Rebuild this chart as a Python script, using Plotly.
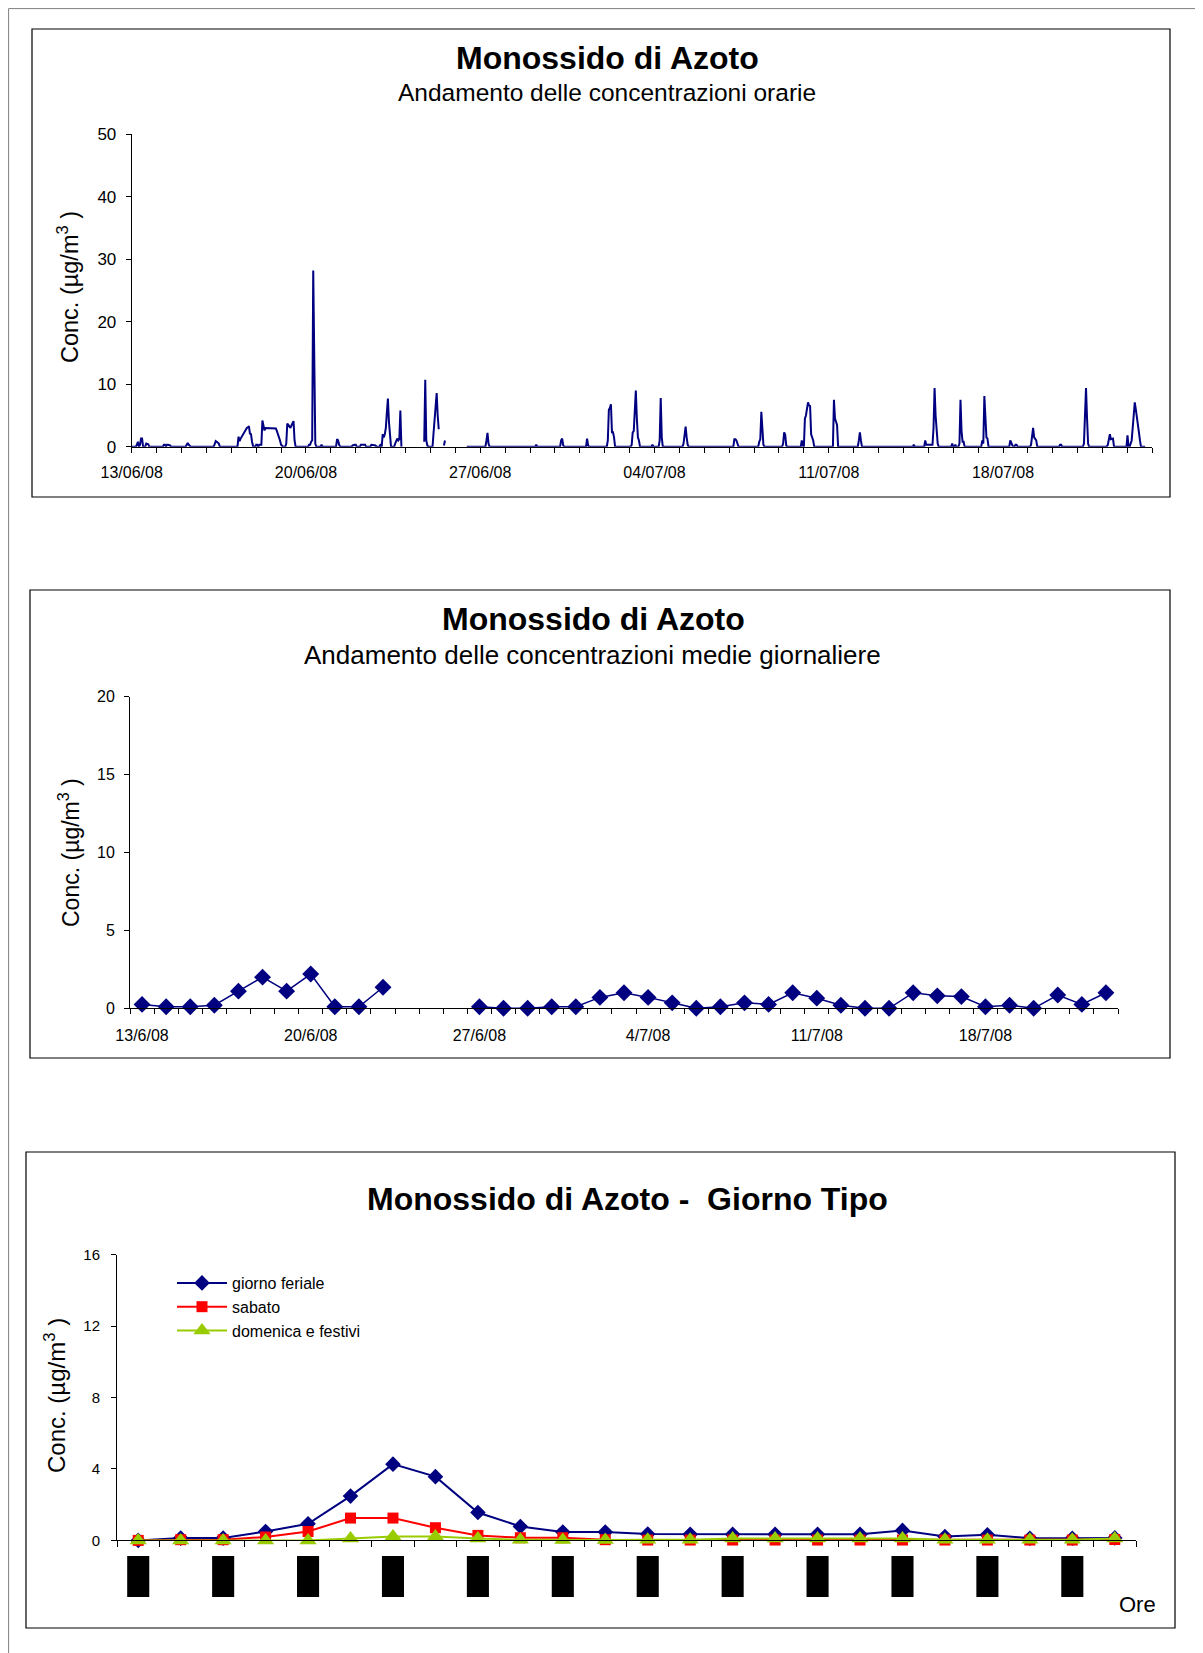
import pandas as pd
import plotly.graph_objects as go

N = None
W, H = 1203, 1653
OFF = 8  # the page body adds an 8px margin around the figure
FONT = "Liberation Sans, Arial, sans-serif"
NAVY = "#000080"
RED = "#FF0000"
GREEN = "#99CC00"

# ---------------- Chart 1: hourly concentrations (one row per day, hours 0..23) ----------------
hourly_start = "2008-06-13"
hourly_by_day = [
    [0, 0, 0, 0, 0, 0.3, 0.8, 0, 0.3, 1.3, 1.3, 0, 0, 0, 0.5, 0.5, 0.4, 0, 0, 0, 0, 0, 0, 0],          # 13/06
    [0, 0, 0, 0, 0, 0, 0, 0.3, 0.3, 0, 0.3, 0.3, 0.3, 0.2, 0, 0, 0, 0, 0, 0, 0, 0, 0, 0],              # 14/06
    [0, 0, 0, 0, 0, 0.3, 0.6, 0.3, 0.1, 0, 0, 0, 0, 0, 0, 0, 0, 0, 0, 0, 0, 0, 0, 0],                  # 15/06
    [0, 0, 0, 0, 0, 0, 0, 0, 0.4, 0.9, 0.8, 0.7, 0.5, 0, 0, 0, 0, 0, 0, 0, 0, 0, 0, 0],                # 16/06
    [0, 0, 0, 0, 0, 0, 0, 1.6, 0.9, 1.3, 1.6, 2.0, 2.3, 2.5, 2.8, 3.0, 3.1, 3.3, 2.1, 2.0, 0.8, 0.1, 0, 0],
    [0.3, 0.3, 0, 0.3, 0.3, 0.3, 4.2, 3.5, 2.6, 3.0, 3.0, 3.0, 3.0, 3.0, 3.0, 3.0, 3.0, 3.0, 3.0, 2.9, 2.5, 2.0, 1.8, 1.0],
    [0.3, 0.1, 0, 0, 0, 0.5, 3.7, 3.5, 3.3, 3.0, 3.4, 3.7, 4.1, 1.0, 0, 0, 0, 0, 0, 0, 0, 0, 0, 0],
    [0, 0, 0, 0.3, 0.3, 0.8, 1.0, 28.2, 9.5, 0.5, 0, 0, 0, 0, 0, 0.3, 0, 0, 0, 0, 0, 0, 0, 0],        # 20/06
    [0, 0, 0, 0, 0, 0, 1.2, 1.0, 0.3, 0, 0, 0, 0, 0, 0, 0, 0, 0, 0, 0, 0, 0.2, 0.3, 0.3],
    [0.3, 0, 0, 0, 0, 0.3, 0.3, 0.3, 0.3, 0.3, 0, 0, 0, 0, 0, 0.3, 0.3, 0.3, 0.3, 0.2, 0, 0, 0, 0],
    [0.4, 0, 2.0, 1.5, 2.0, 3.0, 5.5, 7.7, 4.0, 1.0, 0, 0, 0, 0, 0.5, 1.0, 1.3, 1.0, 1.2, 5.8, 0, N, N, N],
    [N, N, N, N, N, N, N, N, N, N, N, N, N, N, N, N, N, N, 0.8, 10.7, 1.0, 0.2, 0, 0],
    [0, 0, 0, 2.2, 4.5, 6.0, 8.6, 5.0, 2.8, N, N, N, N, 0.2, 1.0, N, N, N, N, N, N, N, N, N],
    [N, N, N, N, N, N, N, N, N, N, N, 0, 0, 0, 0, 0, 0, 0, 0, 0, 0, 0, 0, 0],
    [0, 0, 0, 0, 0, 0, 1.0, 2.2, 0.5, 0, 0, 0, 0, 0, 0, 0, 0, 0, 0, 0, 0, 0, 0, 0],                  # 27/06
    [0, 0, 0, 0, 0, 0, 0, 0, 0, 0, 0, 0, 0, 0, 0, 0, 0, 0, 0, 0, 0, 0, 0, 0],
    [0, 0, 0, 0, 0, 0, 0.3, 0, 0, 0, 0, 0, 0, 0, 0, 0, 0, 0, 0, 0, 0, 0, 0, 0],
    [0, 0, 0, 0, 0, 0, 1.0, 1.3, 0.2, 0, 0, 0, 0, 0, 0, 0, 0, 0, 0, 0, 0, 0, 0, 0],
    [0, 0, 0, 0, 0, 0, 0, 1.3, 0.2, 0, 0, 0, 0, 0, 0, 0, 0, 0, 0, 0, 0, 0, 0, 0],
    [0, 0, 0, 1.0, 5.9, 6.2, 6.8, 2.3, 2.3, 1.5, 0, 0, 0, 0, 0, 0, 0, 0, 0, 0, 0, 0, 0, 0],
    [0, 0, 0.3, 2.3, 2.5, 6.0, 9.0, 4.5, 1.5, 1.0, 0, 0, 0, 0, 0, 0, 0, 0, 0, 0, 0, 0, 0.3, 0],
    [0, 0, 0, 0, 0, 1.0, 7.8, 1.5, 0, 0, 0, 0, 0, 0, 0, 0, 0, 0, 0, 0, 0, 0, 0, 0],                  # 04/07
    [0, 0, 0, 0, 0.5, 1.5, 3.2, 1.5, 0.3, 0, 0, 0, 0, 0, 0, 0, 0, 0, 0, 0, 0, 0, 0, 0],
    [0, 0, 0, 0, 0, 0, 0, 0, 0, 0, 0, 0, 0, 0, 0, 0, 0, 0, 0, 0, 0, 0, 0, 0],
    [0, 0, 0, 0, 0, 1.2, 1.2, 1.0, 0.3, 0, 0, 0, 0, 0, 0, 0, 0, 0, 0, 0, 0, 0, 0, 0],
    [0, 0, 0, 0, 0, 0.8, 1.2, 5.6, 1.5, 0.3, 0, 0, 0, 0, 0, 0, 0, 0, 0, 0, 0, 0, 0, 0],
    [0, 0, 0, 0, 0.5, 2.3, 1.9, 0.2, 0, 0, 0, 0, 0, 0, 0, 0, 0, 0, 0, 0, 0, 0, 1.0, 0.2],
    [0, 4.5, 5.0, 6.0, 7.1, 6.6, 6.5, 2.0, 1.5, 1.0, 0, 0, 0, 0, 0, 0, 0, 0, 0, 0, 0, 0, 0, 0],
    [0, 0, 0, 0, 0, 7.5, 4.5, 4.0, 3.5, 0, 0, 0, 0, 0, 0, 0, 0, 0, 0, 0, 0, 0, 0, 0],                # 11/07
    [0, 0, 0, 0, 0, 1.0, 2.3, 1.0, 0, 0, 0, 0, 0, 0, 0, 0, 0, 0, 0, 0, 0, 0, 0, 0],
    [0, 0, 0, 0, 0, 0, 0, 0, 0, 0, 0, 0, 0, 0, 0, 0, 0, 0, 0, 0, 0, 0, 0, 0],
    [0, 0, 0, 0, 0, 0, 0, 0, 0, 0, 0.3, 0, 0, 0, 0, 0, 0, 0, 0, 0, 0, 1.0, 0.3, 0.3],
    [0.3, 0.3, 0.3, 0.2, 0.3, 3.0, 9.4, 5.0, 3.0, 0.5, 0, 0, 0, 0, 0, 0, 0, 0, 0, 0, 0, 0, 0, 0.5],
    [0, 0, 0.3, 0, 0, 0, 0.5, 7.5, 2.5, 0.8, 0.8, 0, 0, 0, 0, 0, 0, 0, 0, 0, 0, 0, 0, 0],
    [0, 0, 0, 0, 1.0, 0.5, 8.1, 3.0, 1.5, 1.3, 0, 0, 0, 0, 0, 0, 0, 0, 0, 0, 0, 0, 0, 0],
    [0, 0, 0, 0, 0, 0, 0, 1.0, 0.5, 0.2, 0, 0, 0.3, 0.3, 0, 0, 0, 0, 0, 0, 0, 0, 0, 0],              # 18/07
    [0, 0, 0, 0.3, 1.5, 3.0, 1.5, 1.2, 1.0, 0, 0, 0, 0, 0, 0, 0, 0, 0, 0, 0, 0, 0, 0, 0],
    [0, 0, 0, 0, 0, 0, 0, 0.3, 0.3, 0, 0, 0, 0, 0, 0, 0, 0, 0, 0, 0, 0, 0, 0, 0],
    [0, 0, 0, 0, 0, 0, 0.5, 5.0, 9.4, 4.5, 0.5, 0, 0, 0, 0, 0, 0, 0, 0, 0, 0, 0, 0, 0],
    [0, 0, 0, 0, 0, 0.3, 1.0, 2.0, 1.2, 1.2, 1.3, 0, 0, 0, 0, 0, 0, 0, 0, 0, 0, 0, 0, 0],
    [1.8, 0, 0, 0.5, 1.0, 3.0, 5.5, 7.1, 6.0, 5.0, 3.5, 2.3, 1.0, 0, 0, 0, 0, 0, N, N, N, N, N, N],   # 23/07
]
hourly_tick_dates = ["2008-06-13", "2008-06-20", "2008-06-27", "2008-07-04", "2008-07-11", "2008-07-18"]
hourly_tick_labels = ["13/06/08", "20/06/08", "27/06/08", "04/07/08", "11/07/08", "18/07/08"]

# ---------------- Chart 2: daily means ----------------
daily_dates = pd.date_range("2008-06-13", "2008-07-23", freq="D")
daily_values = [0.25, 0.1, 0.1, 0.2, 1.1, 2.0, 1.1, 2.2, 0.1, 0.1, 1.35,
                None, None, None,
                0.1, 0, 0, 0.1, 0.1, 0.7, 1.0, 0.7, 0.35, 0, 0.1, 0.35, 0.25, 1.0, 0.65,
                0.2, 0, 0, 1.0, 0.8, 0.75, 0.1, 0.2, 0, 0.85, 0.25, 1.0]
daily_tick_dates = ["2008-06-13", "2008-06-20", "2008-06-27", "2008-07-04", "2008-07-11", "2008-07-18"]
daily_tick_labels = ["13/6/08", "20/6/08", "27/6/08", "4/7/08", "11/7/08", "18/7/08"]

# ---------------- Chart 3: typical day ----------------
hours = ["00:00", "01:00", "02:00", "03:00", "04:00", "05:00", "06:00", "07:00",
         "08:00", "09:00", "10:00", "11:00", "12:00", "13:00", "14:00", "15:00",
         "16:00", "17:00", "18:00", "19:00", "20:00", "21:00", "22:00", "23:00"]
giorno_feriale = [0.0, 0.13, 0.13, 0.5, 0.93, 2.48, 4.27, 3.57, 1.56, 0.78, 0.47, 0.47,
                  0.36, 0.34, 0.34, 0.34, 0.34, 0.34, 0.56, 0.22, 0.32, 0.12, 0.12, 0.14]
sabato = [0.0, 0.04, 0.04, 0.19, 0.5, 1.25, 1.25, 0.71, 0.28, 0.15, 0.15, 0.04,
          0.02, 0.02, 0.02, 0.02, 0.02, 0.02, 0.02, 0.02, 0.02, 0.02, 0.02, 0.05]
domenica_festivi = [0.0, 0.0, 0.0, 0.0, 0.0, 0.1, 0.22, 0.22, 0.1, 0.04, 0.02, 0.02,
                    0.03, 0.04, 0.1, 0.1, 0.1, 0.1, 0.1, 0.04, 0.04, 0.04, 0.04, 0.1]


def fx(px):
    return (px - OFF) / W


def fy(py):
    return 1 - (py - OFF) / H


hourly_values = [v for day in hourly_by_day for v in day]
hourly_times = pd.date_range(hourly_start, periods=len(hourly_values), freq="h")

fig = go.Figure()

fig.add_trace(go.Scatter(x=hourly_times, y=hourly_values, mode="lines",
                         line=dict(color=NAVY, width=2), connectgaps=False,
                         xaxis="x", yaxis="y", showlegend=False, hoverinfo="skip"))

fig.add_trace(go.Scatter(x=daily_dates, y=daily_values, mode="lines+markers",
                         line=dict(color=NAVY, width=1.5),
                         marker=dict(symbol="diamond", size=13, color=NAVY),
                         connectgaps=False, cliponaxis=False,
                         xaxis="x2", yaxis="y2", showlegend=False, hoverinfo="skip"))

series3 = [("giorno feriale", giorno_feriale, NAVY, "diamond", 12),
           ("sabato", sabato, RED, "square", 11),
           ("domenica e festivi", domenica_festivi, GREEN, "triangle-up", 15)]
for name, vals, col, sym, sz in series3:
    fig.add_trace(go.Scatter(x=hours, y=vals, mode="lines+markers", name=name,
                             line=dict(color=col, width=2),
                             marker=dict(symbol=sym, size=sz, color=col),
                             cliponaxis=False, legendgroup=name,
                             xaxis="x3", yaxis="y3", hoverinfo="skip"))

axis_common = dict(showline=True, linecolor="black", linewidth=1, ticks="outside",
                   ticklen=5, tickcolor="black", tickwidth=1, showgrid=False,
                   zeroline=False, automargin=False,
                   tickfont=dict(family=FONT, size=16, color="black"))

fig.update_layout(
    template="none",
    width=W, height=H,
    margin=dict(l=0, r=0, t=0, b=0, pad=0, autoexpand=False),
    paper_bgcolor="white", plot_bgcolor="white",
    font=dict(family=FONT, color="black"),
    xaxis=dict(axis_common, domain=[fx(131.7), fx(1152.4)], anchor="y", type="date",
               range=["2008-06-13 00:00", "2008-07-24 00:00"],
               tickmode="array", tickvals=hourly_tick_dates, ticktext=hourly_tick_labels,
               ticklabelstandoff=6,
               minor=dict(tickmode="linear", tick0="2008-06-13", dtick=86400000,
                          ticks="outside", ticklen=5, tickcolor="black", showgrid=False)),
    yaxis=dict(axis_common, domain=[fy(446.7), fy(134.3)], anchor="x",
               range=[0, 50], dtick=10, ticklabelstandoff=6,
               tickfont=dict(family=FONT, size=17)),
    xaxis2=dict(axis_common, domain=[fx(130), fx(1118)], anchor="y2", type="date",
                range=["2008-06-12 12:00", "2008-07-23 12:00"],
                tickmode="array", tickvals=daily_tick_dates, ticktext=daily_tick_labels,
                ticklen=0, ticklabelstandoff=12,
                minor=dict(tickmode="linear", tick0="2008-06-12 12:00", dtick=86400000,
                           ticks="outside", ticklen=5, tickcolor="black", showgrid=False)),
    yaxis2=dict(axis_common, domain=[fy(1008.3), fy(696.7)], anchor="x2",
                range=[0, 20], dtick=5, ticklabelstandoff=6,
                tickfont=dict(family=FONT, size=16)),
    xaxis3=dict(axis_common, domain=[fx(117), fx(1136)], anchor="y3", type="category",
                categoryorder="array", categoryarray=hours, range=[-0.5, 23.5],
                tickson="boundaries", ticklen=6, showticklabels=False),
    yaxis3=dict(axis_common, domain=[fy(1540.4), fy(1254.6)], anchor="x3",
                range=[0, 16], dtick=4, ticklabelstandoff=8,
                tickfont=dict(family=FONT, size=15)),
    legend=dict(x=fx(172), y=fy(1266), xanchor="left", yanchor="top",
                font=dict(family=FONT, size=16, color="black"),
                bgcolor="rgba(0,0,0,0)", borderwidth=0, itemwidth=50, tracegroupgap=5,
                traceorder="normal"),
)

shapes = []
# outer page frame (left and top edges visible)
shapes.append(dict(type="rect", xref="paper", yref="paper", x0=0.6 / W, x1=1.2,
                   y0=-0.2, y1=1 - 0.6 / H, line=dict(color="#7f7f7f", width=1)))
# chart frames
for (l, t, r, b) in [(32, 29, 1170, 497), (30, 590, 1170, 1058), (26, 1152, 1175, 1628)]:
    shapes.append(dict(type="rect", xref="paper", yref="paper", x0=fx(l), x1=fx(r),
                       y0=fy(b), y1=fy(t), line=dict(color="black", width=1.2)))
# chart 3 hour labels render as solid black blocks in the original
for i in range(0, len(hours), 2):
    shapes.append(dict(type="rect", xref="x3", yref="paper", x0=i - 0.26, x1=i + 0.26,
                       y0=fy(1597), y1=fy(1556), fillcolor="black", line=dict(width=0)))
fig.update_layout(shapes=shapes)

ytitle = "Conc. (µg/m<sup>3</sup> )"
annotations = [
    dict(text="<b>Monossido di Azoto</b>", x=fx(607), y=fy(58), font=dict(size=32)),
    dict(text="Andamento delle concentrazioni orarie", x=fx(607), y=fy(92), font=dict(size=24.5)),
    dict(text="<b>Monossido di Azoto</b>", x=fx(593), y=fy(619), font=dict(size=32)),
    dict(text="Andamento delle concentrazioni medie giornaliere", x=fx(592), y=fy(655), font=dict(size=26)),
    dict(text="<b>Monossido di Azoto -  Giorno Tipo</b>", x=fx(627), y=fy(1199), font=dict(size=32)),
    dict(text=ytitle, x=fx(68), y=fy(287), textangle=-90, font=dict(size=23.5)),
    dict(text=ytitle, x=fx(69), y=fy(852), textangle=-90, font=dict(size=23)),
    dict(text=ytitle, x=fx(55), y=fy(1396), textangle=-90, font=dict(size=24)),
    dict(text="Ore", x=fx(1137), y=fy(1604), font=dict(size=22)),
]
for a in annotations:
    a.update(xref="paper", yref="paper", showarrow=False, xanchor="center", yanchor="middle")
    a["font"].update(family=FONT, color="black")
fig.update_layout(annotations=annotations)

fig.write_html("out.html")
